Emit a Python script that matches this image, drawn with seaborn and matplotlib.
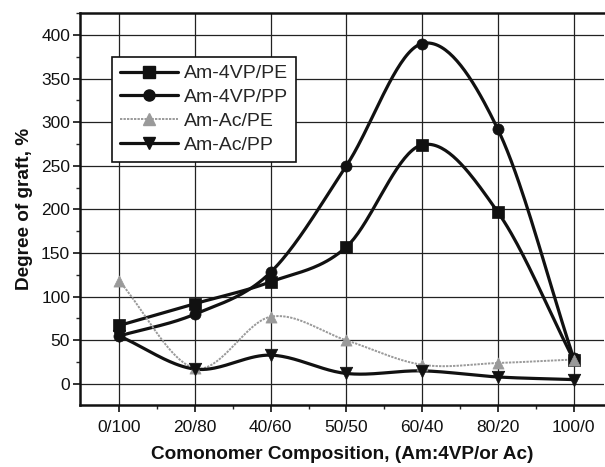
import numpy as np
import pandas as pd
import matplotlib
matplotlib.use("Agg")
import matplotlib.pyplot as plt
from matplotlib.lines import Line2D
from matplotlib.ticker import MultipleLocator, FixedLocator
import seaborn as sns

categories = ["0/100", "20/80", "40/60", "50/50", "60/40", "80/20", "100/0"]
am4vp_pe = [67, 92, 117, 157, 274, 197, 28]
am4vp_pp = [55, 80, 128, 250, 390, 292, 30]
amac_pe = [118, 18, 77, 50, 22, 24, 28]
amac_pp = [55, 17, 33, 12, 15, 8, 5]

series = {
    "Am-4VP/PE": am4vp_pe,
    "Am-4VP/PP": am4vp_pp,
    "Am-Ac/PE": amac_pe,
    "Am-Ac/PP": amac_pp,
}
styles = {
    "Am-4VP/PE": dict(color="#111111", marker="s", lw=2.3, ms=8, ls="-"),
    "Am-4VP/PP": dict(color="#111111", marker="o", lw=2.3, ms=8, ls="-"),
    "Am-Ac/PE": dict(color="#9a9a9a", marker="^", lw=1.4, ms=8, ls=(0, (1.2, 0.6))),
    "Am-Ac/PP": dict(color="#111111", marker="v", lw=2.3, ms=9, ls="-"),
}

def catmull_rom(x, y, n=40):
    x = np.asarray(x, float); y = np.asarray(y, float)
    P = np.column_stack([x, y])
    P = np.vstack([2 * P[0] - P[1], P, 2 * P[-1] - P[-2]])
    out = []
    t = np.linspace(0, 1, n)[:, None]
    for i in range(1, len(P) - 2):
        p0, p1, p2, p3 = P[i - 1], P[i], P[i + 1], P[i + 2]
        seg = 0.5 * ((2 * p1) + (-p0 + p2) * t + (2 * p0 - 5 * p1 + 4 * p2 - p3) * t ** 2
                     + (-p0 + 3 * p1 - 3 * p2 + p3) * t ** 3)
        out.append(seg)
    out = np.vstack(out)
    return out[:, 0], out[:, 1]

sns.set_theme(style="ticks")
plt.rcParams["font.family"] = ["Liberation Sans", "DejaVu Sans"]

fig = plt.figure(figsize=(6.05, 4.67), dpi=100)
ax = fig.add_axes([0.132, 0.133, 0.866, 0.839])

xpos = np.arange(len(categories))
rows = []
for name, vals in series.items():
    for xi, v in zip(xpos, vals):
        rows.append(dict(x=xi, y=v, series=name))
df = pd.DataFrame(rows)

for name, vals in series.items():
    st = styles[name]
    xs, ys = catmull_rom(xpos, vals)
    ax.plot(xs, ys, color=st["color"], lw=st["lw"], ls=st["ls"], zorder=3,
            solid_capstyle="butt")
    sub = df[df.series == name]
    sns.scatterplot(data=sub, x="x", y="y", marker=st["marker"], s=st["ms"] ** 2,
                    color=st["color"], edgecolor=st["color"], linewidth=0.5,
                    ax=ax, zorder=4, legend=False)

ax.set_xlim(-0.52, 6.4)
ax.set_ylim(-24, 425)
ax.set_xticks(xpos)
ax.set_xticklabels(categories)
ax.xaxis.set_minor_locator(FixedLocator(xpos[:-1] + 0.5))
ax.yaxis.set_major_locator(MultipleLocator(50))
ax.yaxis.set_minor_locator(MultipleLocator(25))
ax.grid(True, which="major", color="#222222", lw=0.9)
ax.set_axisbelow(True)
ax.tick_params(axis="both", which="major", direction="out", length=5, width=1.2,
               labelsize=12.5, colors="#111111")
ax.tick_params(axis="y", which="major", pad=2)
ax.tick_params(axis="x", which="major", pad=6)
ax.tick_params(axis="both", which="minor", direction="out", length=3, width=1.0)
for sp in ["left", "bottom", "top"]:
    ax.spines[sp].set_linewidth(1.8)
    ax.spines[sp].set_color("#111111")
ax.spines["right"].set_visible(False)

ax.set_xlabel("Comonomer Composition, (Am:4VP/or Ac)", fontsize=13.7,
              fontweight="bold", labelpad=8, color="#111111")
ax.set_ylabel("Degree of graft, %", fontsize=13.7, fontweight="bold",
              labelpad=6, color="#111111")

handles = [Line2D([0], [0], color=styles[n]["color"], lw=styles[n]["lw"],
                  ls=styles[n]["ls"], marker=styles[n]["marker"], ms=styles[n]["ms"])
           for n in series]
leg = ax.legend(handles, list(series.keys()), loc="upper left",
                bbox_to_anchor=(0.061, 0.888), fontsize=14, frameon=True,
                fancybox=False, edgecolor="#111111", handlelength=3.0,
                borderpad=0.4, labelspacing=0.32, handletextpad=0.3,
                borderaxespad=0)
leg.get_frame().set_linewidth(1.2)
leg.get_frame().set_alpha(1)
leg.set_zorder(10)

fig.savefig("out.png", dpi=100)
